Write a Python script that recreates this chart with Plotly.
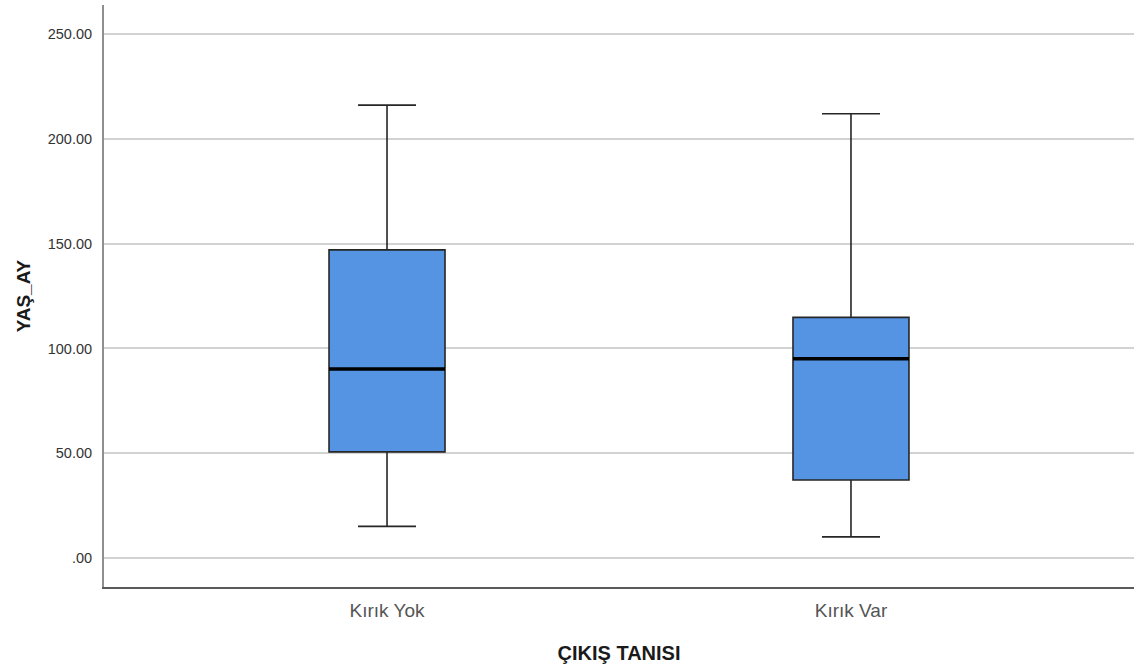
import plotly.graph_objects as go

# Summary statistics of YAŞ_AY per ÇIKIŞ TANISI group
groups = ["Kırık Yok", "Kırık Var"]
lower_whisker = [15.2, 10.2]
q1 = [50.7, 37.3]
median = [90.2, 95.1]
q3 = [147.0, 114.8]
upper_whisker = [216.0, 211.9]

y_tick_values = [0, 50, 100, 150, 200, 250]
y_tick_labels = [".00", "50.00", "100.00", "150.00", "200.00", "250.00"]

positions = list(range(len(groups)))
box_width = 0.25

fig = go.Figure()

fig.add_trace(go.Box(
    x=positions,
    lowerfence=lower_whisker,
    q1=q1,
    median=median,
    q3=q3,
    upperfence=upper_whisker,
    width=box_width,
    whiskerwidth=0.5,
    fillcolor="#5494E3",
    line=dict(color="#262626", width=1.6),
    boxpoints=False,
    hoverinfo="skip",
    showlegend=False,
))

# Heavy median bars drawn over each box
for pos, med in zip(positions, median):
    fig.add_trace(go.Scatter(
        x=[pos - box_width / 2, pos + box_width / 2],
        y=[med, med],
        mode="lines",
        line=dict(color="#000000", width=3.5),
        hoverinfo="skip",
        showlegend=False,
    ))

fig.update_layout(
    width=1134,
    height=670,
    margin=dict(l=104, r=0, t=5, b=83),
    paper_bgcolor="white",
    plot_bgcolor="white",
    font=dict(family="Liberation Sans, Arial, sans-serif"),
)

fig.update_xaxes(
    range=[-0.61, 1.61],
    tickmode="array",
    tickvals=positions,
    ticktext=groups,
    tickfont=dict(size=19, color="#555555"),
    ticks="",
    ticklabelstandoff=5,
    showgrid=False,
    zeroline=False,
    showline=True,
    linecolor="#5a5a5a",
    linewidth=1.5,
    title=dict(text="<b>ÇIKIŞ TANISI</b>", font=dict(size=20, color="#1a1a1a"), standoff=26),
)

fig.update_yaxes(
    range=[-13.7, 263.7],
    tickmode="array",
    tickvals=y_tick_values,
    ticktext=y_tick_labels,
    tickfont=dict(size=14.5, color="#333333"),
    ticks="",
    ticklabelstandoff=7,
    showgrid=True,
    gridcolor="#d2d2d2",
    gridwidth=1.5,
    zeroline=False,
    showline=True,
    linecolor="#8f8f8f",
    linewidth=2,
    title=dict(text="<b>YAŞ_AY</b>", font=dict(size=19, color="#1a1a1a"), standoff=12),
)

fig.write_html("out.html")
